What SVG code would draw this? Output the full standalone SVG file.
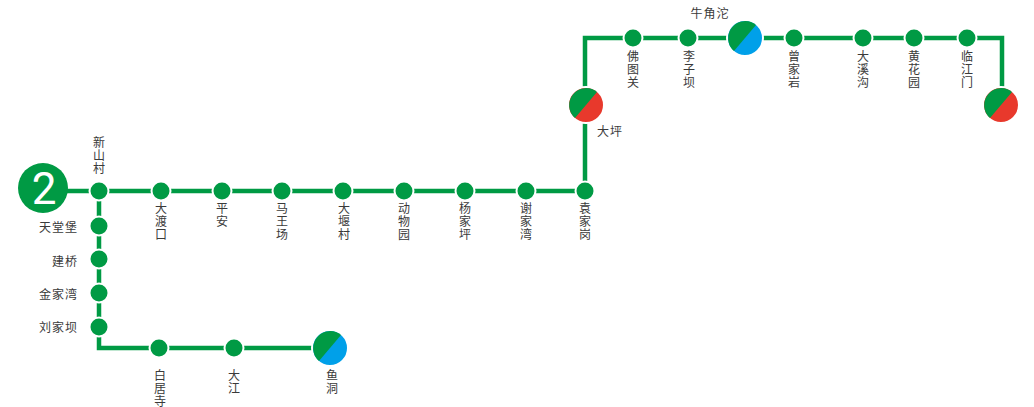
<svg xmlns="http://www.w3.org/2000/svg" width="1034" height="407" viewBox="0 0 1034 407">
<style>
text{font-family:"Noto Sans CJK SC","Noto Sans",sans-serif;font-size:12px;fill:#3a3a3a}
.m{text-anchor:middle}.e{text-anchor:end}
.v{writing-mode:vertical-rl;letter-spacing:1px}
.s{fill:#009a44;stroke:#fff;stroke-width:2}
.g{fill:#009a44}
.h{stroke:#fff;stroke-width:2}
.b{fill:#00a0e9}.r{fill:#e8392c}
.l{fill:none;stroke:#009a44;stroke-width:4.500}
</style>
<defs>
<path id="half" class="g" d="M11,-12.96A17,17 0 0 0 -11,12.96Z"/>
</defs>
<rect width="1034" height="407" fill="#fff"/>
<g id="connectors">
<path class="l" d="M60,191H585V105M585,105V38H1002V105"/>
<path class="l" d="M99,191V348H330"/>
</g>
<g id="line-badge"><circle cx="43" cy="188" r="25" fill="#009a44"/><text x="44" y="204" class="m" style="font-family:Roboto,'Liberation Sans',sans-serif;font-weight:400;font-size:44px;fill:#fff">2</text></g>
<g id="n-xinshancun"><circle class="s" cx="99" cy="191" r="9.5"/><text x="99" y="136" class="v">新山村</text></g>
<g id="n-dadukou"><circle class="s" cx="161" cy="191" r="9.5"/><text x="161" y="202" class="v">大渡口</text></g>
<g id="n-pingan"><circle class="s" cx="222" cy="191" r="9.5"/><text x="222" y="202" class="v">平安</text></g>
<g id="n-mawangchang"><circle class="s" cx="282" cy="191" r="9.5"/><text x="282" y="202" class="v">马王场</text></g>
<g id="n-dayancun"><circle class="s" cx="343" cy="191" r="9.5"/><text x="344" y="202" class="v">大堰村</text></g>
<g id="n-dongwuyuan"><circle class="s" cx="404" cy="191" r="9.5"/><text x="404" y="202" class="v">动物园</text></g>
<g id="n-yangjiaping"><circle class="s" cx="465" cy="191" r="9.5"/><text x="465" y="202" class="v">杨家坪</text></g>
<g id="n-xiejiawan"><circle class="s" cx="526" cy="191" r="9.5"/><text x="526" y="202" class="v">谢家湾</text></g>
<g id="n-yuanjiagang"><circle class="s" cx="585" cy="191" r="9.5"/><text x="585" y="202" class="v">袁家岗</text></g>
<g id="n-tiantangbao"><circle class="s" cx="99" cy="226" r="9.5"/><text x="78" y="232" class="e" letter-spacing="1">天堂堡</text></g>
<g id="n-jianqiao"><circle class="s" cx="99" cy="259" r="9.5"/><text x="78" y="266" class="e" letter-spacing="1">建桥</text></g>
<g id="n-jinjiawan"><circle class="s" cx="99" cy="293" r="9.5"/><text x="78" y="299" class="e" letter-spacing="1">金家湾</text></g>
<g id="n-liujiaba"><circle class="s" cx="99" cy="327" r="9.5"/><text x="78" y="332" class="e" letter-spacing="1">刘家坝</text></g>
<g id="n-baijusi"><circle class="s" cx="159" cy="348" r="9.5"/><text x="160" y="369" class="v">白居寺</text></g>
<g id="n-dajiang"><circle class="s" cx="234" cy="348" r="9.5"/><text x="234" y="369" class="v">大江</text></g>
<g id="n-yudong"><g transform="translate(330,348)"><circle class="b h" r="18"/><use href="#half"/></g><text x="332" y="369" class="v">鱼洞</text></g>
<g id="n-daping"><g transform="translate(586,105)"><circle class="r h" r="18"/><use href="#half"/></g><text x="597" y="136" letter-spacing="1">大坪</text></g>
<g id="n-futuguan"><circle class="s" cx="633" cy="38" r="9.5"/><text x="633" y="50" class="v">佛图关</text></g>
<g id="n-liziba"><circle class="s" cx="688" cy="38" r="9.5"/><text x="689" y="50" class="v">李子坝</text></g>
<g id="n-niujiaotuo"><g transform="translate(745,38)"><circle class="b h" r="18"/><use href="#half"/></g><text x="710" y="18" class="m" letter-spacing="1">牛角沱</text></g>
<g id="n-cengjiayan"><circle class="s" cx="794" cy="38" r="9.5"/><text x="794" y="50" class="v">曾家岩</text></g>
<g id="n-daxigou"><circle class="s" cx="863" cy="38" r="9.5"/><text x="863" y="50" class="v">大溪沟</text></g>
<g id="n-huanghuayuan"><circle class="s" cx="914" cy="38" r="9.5"/><text x="914" y="50" class="v">黄花园</text></g>
<g id="n-linjiangmen"><circle class="s" cx="967" cy="38" r="9.5"/><text x="967" y="50" class="v">临江门</text></g>
<g id="n-terminal"><g transform="translate(1001,105)"><circle class="r h" r="18"/><use href="#half"/></g></g>
</svg>
